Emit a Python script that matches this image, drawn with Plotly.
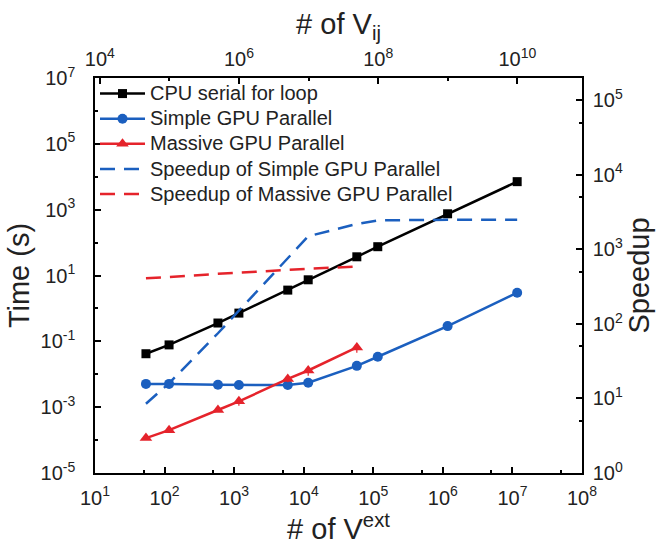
import plotly.graph_objects as go

# ---- data ----
v_ext = [54, 116, 585, 1170, 5900, 11600, 58000, 116000, 1.17e6, 1.17e7]
cpu_time = [0.042, 0.078, 0.36, 0.72, 3.6, 7.4, 37, 75, 750, 7100]
simple_time = [0.0051, 0.0051, 0.0048, 0.0047, 0.0047, 0.0055, 0.018, 0.034, 0.29, 3.0]
v_ext_massive = [54, 116, 585, 1170, 5900, 11600, 58000]
massive_time = [1.15e-4, 2.0e-4, 8.2e-4, 1.5e-3, 7.2e-3, 0.013, 0.065]
massive_err = [0, 0, 0, 0.0004, 0.0015, 0.004, 0.02]
speedup_simple = [8.5, 16, 75, 150, 760, 1500, 2200, 2450, 2500, 2500]
speedup_massive = [410, 425, 470, 490, 530, 550, 590]

series_names = ["CPU serial for loop", "Simple GPU Parallel", "Massive GPU Parallel",
                "Speedup of Simple GPU Parallel", "Speedup of Massive GPU Parallel"]

bottom_ticks = [1e1, 1e2, 1e3, 1e4, 1e5, 1e6, 1e7, 1e8]
bottom_labels = ["10<sup>%d</sup>" % k for k in range(1, 9)]
bottom_minor = [5e1, 5e2, 5e3, 5e4, 5e5, 5e6, 5e7]
left_ticks = [1e-5, 1e-3, 1e-1, 1e1, 1e3, 1e5, 1e7]
left_labels = ["10<sup>%d</sup>" % k for k in (-5, -3, -1, 1, 3, 5, 7)]
left_minor = [1e-4, 1e-2, 1e0, 1e2, 1e4, 1e6]
right_ticks = [1e0, 1e1, 1e2, 1e3, 1e4, 1e5]
right_labels = ["10<sup>%d</sup>" % k for k in range(0, 6)]
right_minor = [5e0, 5e1, 5e2, 5e3, 5e4]
top_ticks = [1e4, 1e6, 1e8, 1e10]
top_labels = ["10<sup>%d</sup>" % k for k in (4, 6, 8, 10)]
top_minor = [1e5, 1e7, 1e9]

BLACK = "#000000"
TXT = "#222222"
BLUE = "#1b5fbf"
RED = "#e5232b"
FONT = "Arial, Liberation Sans, sans-serif"


def legend_label(s):
    return '<span style="font-size:20px">%s</span>' % s


fig = go.Figure()
fig.add_trace(go.Scatter(x=v_ext, y=cpu_time, name=legend_label(series_names[0]), mode="lines+markers",
                         line=dict(color=BLACK, width=2.5),
                         marker=dict(symbol="square", size=9, color=BLACK)))
fig.add_trace(go.Scatter(x=v_ext, y=simple_time, name=legend_label(series_names[1]), mode="lines+markers",
                         line=dict(color=BLUE, width=2.5),
                         marker=dict(symbol="circle", size=10, color=BLUE)))
fig.add_trace(go.Scatter(x=v_ext_massive, y=massive_time, name=legend_label(series_names[2]), mode="lines+markers",
                         line=dict(color=RED, width=2.5),
                         marker=dict(symbol="triangle-up", size=11, color=RED),
                         error_y=dict(type="data", array=massive_err, visible=True,
                                      color=RED, thickness=1.2, width=0)))
fig.add_trace(go.Scatter(x=v_ext, y=speedup_simple, name=legend_label(series_names[3]), mode="lines",
                         line=dict(color=BLUE, width=2.5, dash="15px,9px"), yaxis="y2"))
fig.add_trace(go.Scatter(x=v_ext_massive, y=speedup_massive, name=legend_label(series_names[4]), mode="lines",
                         line=dict(color=RED, width=2.5, dash="15px,9px"), yaxis="y2"))
# invisible trace to activate the top axis
fig.add_trace(go.Scatter(x=[1e5], y=[1], xaxis="x2", yaxis="y", mode="markers",
                         marker=dict(opacity=0), showlegend=False, hoverinfo="skip"))

axis_common = dict(showline=True, linecolor=BLACK, linewidth=1.5, ticks="inside", ticklen=6,
                   tickwidth=1.5, tickcolor=BLACK, showgrid=False, zeroline=False,
                   tickfont=dict(family=FONT, size=20, color=TXT))
minor_common = dict(ticks="inside", ticklen=3.5, tickwidth=1.5, tickcolor=BLACK, showgrid=False)
title_font = dict(family=FONT, size=29, color=TXT)

fig.update_layout(
    width=662, height=546,
    margin=dict(l=95, r=80, t=78, b=73),
    paper_bgcolor="white", plot_bgcolor="white",
    font=dict(family=FONT, color=TXT),
    showlegend=True,
    legend=dict(x=0.0, y=1.005, xanchor="left", yanchor="top", bgcolor="rgba(0,0,0,0)",
                font=dict(family=FONT, size=17, color=TXT), tracegroupgap=0,
                itemwidth=45),
    xaxis=dict(type="log", range=[1, 8], tickvals=bottom_ticks, ticktext=bottom_labels,
               minor=dict(tickvals=bottom_minor, **minor_common), ticklabelstandoff=6,
               title=dict(text="# of V<sup>ext</sup>", font=title_font, standoff=2),
               **axis_common),
    xaxis2=dict(type="log", range=[3.93, 10.93], overlaying="x", side="top", anchor="y",
                tickvals=top_ticks, ticktext=top_labels, ticklabelstandoff=2,
                minor=dict(tickvals=top_minor, **minor_common),
                title=dict(text="# of V<sub>ij</sub>", font=title_font, standoff=2),
                **axis_common),
    yaxis=dict(type="log", range=[-5, 7], tickvals=left_ticks, ticktext=left_labels,
               minor=dict(tickvals=left_minor, **minor_common), ticklabelstandoff=14,
               title=dict(text="Time (s)", font=title_font, standoff=2),
               **axis_common),
    yaxis2=dict(type="log", range=[0, 5.3], overlaying="y", side="right", anchor="x",
                tickvals=right_ticks, ticktext=right_labels, ticklabelstandoff=5,
                minor=dict(tickvals=right_minor, **minor_common),
                title=dict(text="Speedup", font=title_font, standoff=4),
                **axis_common),
)

fig.write_html("out.html")
